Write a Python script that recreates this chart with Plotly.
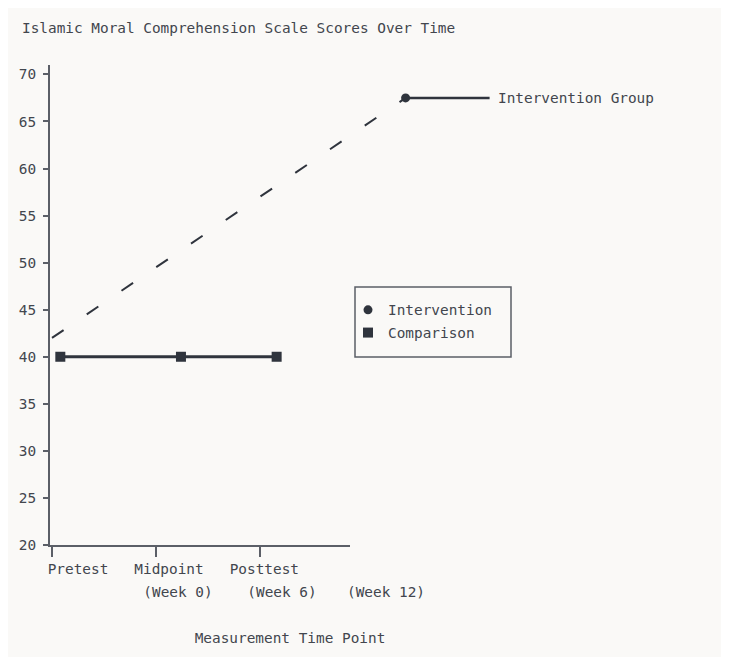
import plotly.graph_objects as go

# ---- data ----
title_text = "Islamic Moral Comprehension Scale Scores Over Time"
time_labels = ["Pretest", "Midpoint", "Posttest"]
week_labels = ["(Week 0)", "(Week 6)", "(Week 12)"]
y_ticks = [20, 25, 30, 35, 40, 45, 50, 55, 60, 65, 70]

intervention_x = [0.0, 3.40]
intervention_y = [42.0, 67.5]
comparison_x = [0.08, 1.24, 2.16]
comparison_y = [40.0, 40.0, 40.0]

# ---- style ----
W, H = 729, 657
OFF = 8                     # page offset of the figure in the screenshot
SL, ST = 50, 65             # plot-area top-left in screenshot pixels
PW, PH = 480, 480
ML, MT = SL - OFF, ST - OFF
MR, MB = W - ML - PW, H - MT - PH
SB = ST + PH                # plot bottom in screenshot pixels (545)
PX_PER_UNIT = 104.0
X0_PX = 2.0
FONT = "DejaVu Sans Mono"
FS = 14.4
BG = "#faf9f7"
TXT = "#42464e"
INK = "#2f343d"
AXC = "#5b5f67"


def px(sx):
    return (sx - SL) / PW


def py(sy):
    return (SB - sy) / PH


x_left = -X0_PX / PX_PER_UNIT
x_right_axis = (300 - X0_PX) / PX_PER_UNIT
x_right_wide = (PW - X0_PX) / PX_PER_UNIT

fig = go.Figure()

# intervention dashed path
fig.add_trace(go.Scatter(
    x=intervention_x, y=intervention_y, xaxis="x2", yaxis="y",
    mode="lines", line=dict(color=INK, width=2, dash="14px,28px"),
    showlegend=False, hoverinfo="skip"))
# intervention end marker
fig.add_trace(go.Scatter(
    x=intervention_x[-1:], y=intervention_y[-1:], xaxis="x2", yaxis="y",
    mode="markers", marker=dict(symbol="circle", size=9, color=INK),
    name="Intervention", legendgroup="a", cliponaxis=False))
# comparison line + markers
fig.add_trace(go.Scatter(
    x=comparison_x, y=comparison_y, xaxis="x", yaxis="y",
    mode="lines", line=dict(color=INK, width=3),
    showlegend=False, hoverinfo="skip"))
fig.add_trace(go.Scatter(
    x=comparison_x, y=comparison_y, xaxis="x", yaxis="y",
    mode="markers", marker=dict(symbol="square", size=10, color=INK),
    name="Comparison", legendgroup="b", cliponaxis=False))

# small padding to mimic the grid-aligned text offsets of the reference
pad_left = [3, 0, 0]
pad_right = [0, 0, 2]
tick_text = ["\u00a0" * a + t + "\u00a0" * b
             for a, t, b in zip(pad_left, time_labels, pad_right)]

fig.update_layout(
    width=W, height=H,
    margin=dict(l=ML, r=MR, t=MT, b=MB, autoexpand=False),
    paper_bgcolor=BG, plot_bgcolor="rgba(0,0,0,0)",
    font=dict(family=FONT, size=FS, color=TXT),
    title=dict(text=title_text, x=(22 - OFF) / W, xref="container", xanchor="left",
               y=1 - (28 - OFF) / H, yref="container", yanchor="middle",
               font=dict(family=FONT, size=FS, color=TXT)),
    xaxis=dict(domain=[0, 300 / PW], range=[x_left, x_right_axis], anchor="y",
               showline=True, linecolor=AXC, linewidth=2,
               ticks="outside", ticklen=10, tickwidth=1.5, tickcolor=AXC,
               tickvals=[0, 1, 2], ticktext=tick_text, tickangle=0,
               ticklabelshift=13, ticklabeloverflow="allow",
               showgrid=False, zeroline=False, automargin=False,
               tickfont=dict(family=FONT, size=FS, color=TXT)),
    xaxis2=dict(domain=[0, 1], range=[x_left, x_right_wide], anchor="y",
                showline=False, ticks="", tickvals=[1, 2, 3], ticktext=week_labels,
                tickangle=0, ticklabelshift=22, ticklabelstandoff=37,
                ticklabeloverflow="allow",
                showgrid=False, zeroline=False, automargin=False,
                tickfont=dict(family=FONT, size=FS, color=TXT),
                title=dict(text="Measurement Time Point", standoff=33,
                           font=dict(family=FONT, size=FS, color=TXT))),
    yaxis=dict(domain=[0, 1], range=[20, 71], anchor="x",
               showline=True, linecolor=AXC, linewidth=2,
               ticks="outside", ticklen=5, tickwidth=1.5, tickcolor=AXC,
               tickvals=y_ticks, ticklabelstandoff=4,
               showgrid=False, zeroline=False, automargin=False,
               tickfont=dict(family=FONT, size=FS, color=TXT)),
    legend=dict(x=px(348), xanchor="left", y=py(294), yanchor="top",
                bgcolor="rgba(0,0,0,0)", borderwidth=0,
                traceorder="grouped", tracegroupgap=1,
                font=dict(family=FONT, size=FS, color=TXT), itemwidth=30),
    shapes=[dict(type="rect", xref="paper", yref="paper",
                 x0=px(355), x1=px(511), y0=py(357), y1=py(287),
                 line=dict(color=AXC, width=1.5), fillcolor="rgba(0,0,0,0)")],
    annotations=[dict(x=intervention_x[-1], y=intervention_y[-1], xref="x2", yref="y",
                      text="Intervention Group", showarrow=True, arrowhead=0,
                      arrowwidth=2.5, arrowcolor=INK, ax=84, ay=0, xanchor="left",
                      standoff=0, borderpad=7,
                      font=dict(family=FONT, size=FS, color=TXT))],
    showlegend=True,
)

fig.write_html("out.html")
